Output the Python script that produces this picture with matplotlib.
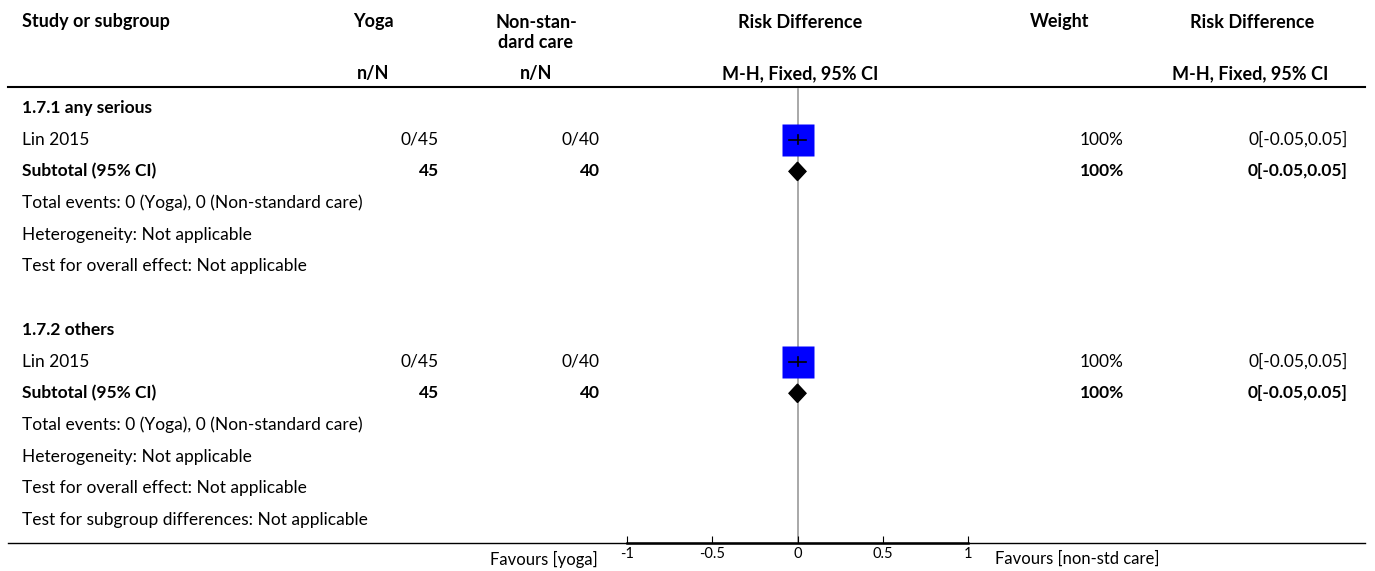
import matplotlib.pyplot as plt
from matplotlib.patches import Polygon

plt.rcParams['font.family'] = ['Lato', 'DejaVu Sans']

# rows of the table, top to bottom
row_labels = ['1.7.1 any serious', 'Lin 2015', 'Subtotal (95% CI)',
              'Total events: 0 (Yoga), 0 (Non-standard care)',
              'Heterogeneity: Not applicable',
              'Test for overall effect: Not applicable', '',
              '1.7.2 others', 'Lin 2015', 'Subtotal (95% CI)',
              'Total events: 0 (Yoga), 0 (Non-standard care)',
              'Heterogeneity: Not applicable',
              'Test for overall effect: Not applicable',
              'Test for subgroup differences: Not applicable']
row_bold = [True, False, True, False, False, False, False,
            True, False, True, False, False, False, False]
yoga_col = ['', '0/45', '45', '', '', '', '', '', '0/45', '45', '', '', '', '']
ctrl_col = ['', '0/40', '40', '', '', '', '', '', '0/40', '40', '', '', '', '']
weight_col = ['', '100%', '100%', '', '', '', '', '', '100%', '100%', '', '', '', '']
ci_col = ['', '0[-0.05,0.05]', '0[-0.05,0.05]', '', '', '', '', '',
          '0[-0.05,0.05]', '0[-0.05,0.05]', '', '', '', '']

# study estimates (row index, estimate, lower, upper)
study_rows = [1, 8]
study_est = [0.0, 0.0]
study_lo = [-0.05, -0.05]
study_hi = [0.05, 0.05]
# subtotal diamonds
sub_rows = [2, 9]
sub_est = [0.0, 0.0]
sub_lo = [-0.05, -0.05]
sub_hi = [0.05, 0.05]

xticks = [-1, -0.5, 0, 0.5, 1]
xtick_labels = ['-1', '-0.5', '0', '0.5', '1']

W, H = 1375, 571
fig = plt.figure(figsize=(W / 100, H / 100), dpi=100)

# background axes in pixel coordinates for the table
bg = fig.add_axes([0, 0, 1, 1])
bg.set_xlim(0, W)
bg.set_ylim(H, 0)
bg.axis('off')

y0, dy = 108, 31.7
def row_y(i):
    return y0 + i * dy

fs = 12.5
hdr = dict(fontsize=13, fontweight='bold', va='center')
bg.text(22, 22, 'Study or subgroup', ha='left', **hdr)
bg.text(373, 22, 'Yoga', ha='center', **hdr)
bg.text(536, 22, 'Non-stan-', ha='center', **hdr)
bg.text(536, 42, 'dard care', ha='center', **hdr)
bg.text(800, 22, 'Risk Difference', ha='center', **hdr)
bg.text(1060, 22, 'Weight', ha='center', **hdr)
bg.text(1252, 22, 'Risk Difference', ha='center', **hdr)
bg.text(373, 74, 'n/N', ha='center', **hdr)
bg.text(536, 74, 'n/N', ha='center', **hdr)
bg.text(800, 74, 'M-H, Fixed, 95% CI', ha='center', **hdr)
bg.text(1250, 74, 'M-H, Fixed, 95% CI', ha='center', **hdr)

bg.plot([8, 1365], [87, 87], color='black', lw=1.5)
bg.plot([8, 1365], [543, 543], color='black', lw=1.0)

for i, lab in enumerate(row_labels):
    y = row_y(i)
    w = 'bold' if row_bold[i] else 'normal'
    bg.text(22, y, lab, ha='left', va='center', fontsize=fs, fontweight=w)
    bg.text(439, y, yoga_col[i], ha='right', va='center', fontsize=fs, fontweight=w)
    bg.text(600, y, ctrl_col[i], ha='right', va='center', fontsize=fs, fontweight=w)
    bg.text(1124, y, weight_col[i], ha='right', va='center', fontsize=fs, fontweight=w)
    bg.text(1348, y, ci_col[i], ha='right', va='center', fontsize=fs, fontweight=w)

bg.text(598, 559, 'Favours [yoga]', ha='right', va='center', fontsize=12)
bg.text(995, 559, 'Favours [non-std care]', ha='left', va='center', fontsize=12)

# forest plot axes
x_left, x_right = 627, 968
top_px, bot_px = 87, 543
ax = fig.add_axes([x_left / W, 1 - bot_px / H, (x_right - x_left) / W, (bot_px - top_px) / H])
ax.patch.set_alpha(0)
ax.set_xlim(-1, 1)
ax.set_ylim((bot_px - y0) / dy, (top_px - y0) / dy)
for s in ['top', 'left', 'right']:
    ax.spines[s].set_visible(False)
ax.spines['bottom'].set_linewidth(1.8)
ax.set_yticks([])
ax.set_xticks(xticks)
ax.set_xticklabels(xtick_labels, fontsize=10.5)
ax.tick_params(axis='x', direction='in', length=5, width=0.8, pad=3)

ax.plot([0, 0], [(89 - y0) / dy, (bot_px - y0) / dy], color='#999999', lw=1.2, zorder=1)

for r, e, lo, hi in zip(study_rows, study_est, study_lo, study_hi):
    ax.plot([e], [r], marker='s', markersize=22.5, color='#0000ff', mec='none', zorder=2)
    ax.plot([lo, hi], [r, r], color='black', lw=1.2, zorder=3)
    ax.plot([e, e], [r - 0.14, r + 0.14], color='black', lw=1.2, zorder=3)

for r, e, lo, hi in zip(sub_rows, sub_est, sub_lo, sub_hi):
    ax.add_patch(Polygon([[lo, r], [e, r - 0.29], [hi, r], [e, r + 0.29]],
                         closed=True, color='black', zorder=3))

fig.savefig('out.png', dpi=100)
